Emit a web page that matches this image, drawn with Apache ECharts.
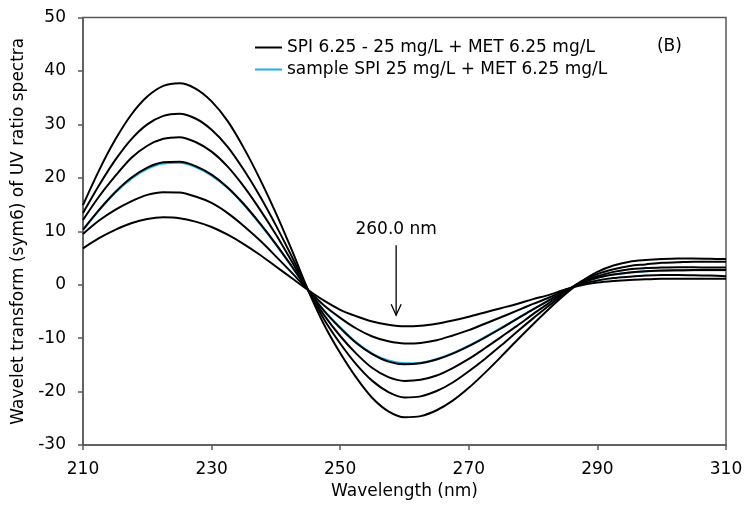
<!DOCTYPE html>
<html>
<head>
<meta charset="utf-8">
<script src="https://cdn.jsdelivr.net/npm/echarts@6/dist/echarts.min.js"></script>
<style>html,body{margin:0;padding:0;background:#fff}#c{width:746px;height:508px}</style>
</head>
<body>
<div id="c"></div>
<script>
const wavelengths = [210, 212.5, 215, 217.5, 220, 222.5, 225, 227.5, 230, 232.5, 235, 237.5, 240, 242.5, 245, 247.5, 250, 252.5, 255, 257.5, 260, 262.5, 265, 267.5, 270, 272.5, 275, 277.5, 280, 282.5, 285, 287.5, 290, 292.5, 295, 297.5, 300, 302.5, 305, 307.5, 310];
const std1 = [14.9, 21.4, 27.1, 31.8, 35.2, 37.2, 37.7, 36.7, 34.3, 30.6, 25.6, 19.8, 13.4, 6.4, -1.0, -7.5, -12.8, -17.4, -21.2, -23.7, -24.8, -24.6, -23.5, -21.7, -19.3, -16.5, -13.5, -10.4, -7.4, -4.5, -1.8, 0.6, 2.4, 3.6, 4.3, 4.6, 4.8, 4.9, 4.9, 4.85, 4.8];
const std2 = [13.4, 18.6, 23.3, 27.2, 30.0, 31.6, 32.0, 31.1, 29.0, 25.8, 21.5, 16.6, 11.1, 5.2, -1.0, -6.5, -11.0, -14.9, -18.0, -20.1, -21.1, -20.9, -19.9, -18.3, -16.2, -13.9, -11.4, -8.8, -6.3, -3.9, -1.5, 0.6, 2.0, 2.9, 3.5, 3.8, 4.1, 4.2, 4.3, 4.3, 4.3];
const std3 = [12.1, 16.5, 20.3, 23.7, 26.0, 27.3, 27.6, 26.7, 24.9, 22.1, 18.4, 14.1, 9.4, 4.3, -1.0, -5.7, -9.6, -12.9, -15.6, -17.3, -18.0, -17.8, -17.0, -15.6, -13.9, -11.9, -9.8, -7.7, -5.5, -3.4, -1.3, 0.5, 1.6, 2.4, 2.9, 3.1, 3.2, 3.25, 3.25, 3.2, 3.2];
const std4 = [10.3, 14.0, 17.3, 20.0, 21.9, 22.9, 23.0, 22.2, 20.6, 18.2, 15.1, 11.5, 7.6, 3.4, -1.0, -4.9, -8.1, -10.9, -13.0, -14.4, -14.9, -14.7, -14.0, -12.9, -11.5, -9.9, -8.2, -6.4, -4.6, -2.9, -1.2, 0.3, 1.3, 1.9, 2.3, 2.5, 2.65, 2.7, 2.75, 2.75, 2.75];
const std5 = [9.5, 12.0, 14.0, 15.6, 16.8, 17.3, 17.25, 16.5, 15.3, 13.4, 11.0, 8.3, 5.3, 2.2, -1.0, -3.9, -6.2, -8.2, -9.7, -10.6, -11.0, -10.9, -10.4, -9.5, -8.5, -7.3, -6.1, -4.85, -3.6, -2.4, -1.0, 0.1, 0.8, 1.25, 1.5, 1.7, 1.8, 1.8, 1.75, 1.7, 1.6];
const std6 = [6.8, 8.7, 10.25, 11.5, 12.3, 12.6, 12.45, 11.8, 10.8, 9.35, 7.6, 5.6, 3.4, 1.2, -1.0, -3.0, -4.7, -5.9, -6.9, -7.5, -7.8, -7.7, -7.3, -6.7, -6.0, -5.2, -4.4, -3.6, -2.7, -1.9, -0.9, -0.1, 0.4, 0.7, 0.9, 1.0, 1.1, 1.1, 1.1, 1.1, 1.1];
const sample = [10.2, 13.9, 17.2, 19.8, 21.7, 22.7, 22.8, 22.0, 20.4, 18.1, 15.0, 11.4, 7.5, 3.3, -1.0, -4.85, -8.0, -10.8, -12.9, -14.2, -14.7, -14.6, -13.9, -12.8, -11.4, -9.8, -8.1, -6.35, -4.55, -2.9, -1.2, 0.3, 1.3, 1.9, 2.25, 2.5, 2.6, 2.65, 2.7, 2.7, 2.7];
const stdName = 'SPI 6.25 - 25 mg/L + MET 6.25 mg/L';
const sampleName = 'sample SPI 25 mg/L + MET 6.25 mg/L';
const xTicks = [210, 230, 250, 270, 290, 310];
const yTicks = [-30, -20, -10, 0, 10, 20, 30, 40, 50];
const annotationText = '260.0 nm';
const panelLabel = '(B)';

const FONT = '"DejaVu Sans", sans-serif';
const FS = 17;
const chart = echarts.init(document.getElementById('c'), null, {renderer: 'canvas'});
const pairs = arr => wavelengths.map((w, i) => [w, arr[i]]);
const mk = (name, arr, color, z) => ({
  name, type: 'line', data: pairs(arr), smooth: 0.3, showSymbol: false, symbol: 'none',
  lineStyle: {color, width: 2}, itemStyle: {color}, z, animation: false
});
const series = [
  mk(sampleName, sample, '#1fb0e6', 2),
  mk(stdName, std1, '#000', 3), mk(stdName, std2, '#000', 3), mk(stdName, std3, '#000', 3),
  mk(stdName, std4, '#000', 3), mk(stdName, std5, '#000', 3), mk(stdName, std6, '#000', 3)
];
chart.setOption({
  animation: false,
  backgroundColor: '#fff',
  grid: {left: 83, right: 20, top: 17.5, bottom: 63, show: true, borderColor: '#595959', borderWidth: 1.5, containLabel: false},
  legend: {
    orient: 'vertical', left: 250, top: 34, itemWidth: 27, itemHeight: 2, itemGap: 5, icon: 'rect',
    data: [stdName, sampleName],
    textStyle: {fontFamily: FONT, fontSize: FS, color: '#000', lineHeight: 17}
  },
  xAxis: {
    type: 'value', min: xTicks[0], max: xTicks[xTicks.length - 1], interval: 20,
    name: 'Wavelength (nm)', nameLocation: 'middle', nameGap: 25,
    nameTextStyle: {fontFamily: FONT, fontSize: FS, color: '#000'},
    axisLine: {show: true, onZero: false, lineStyle: {color: '#595959', width: 1.5}},
    axisTick: {show: true, inside: false, length: 5, lineStyle: {color: '#595959', width: 1.5}},
    axisLabel: {fontFamily: FONT, fontSize: FS, color: '#000', margin: 16},
    splitLine: {show: false}
  },
  yAxis: {
    type: 'value', min: yTicks[0], max: yTicks[yTicks.length - 1], interval: 10,
    name: 'Wavelet transform (sym6) of UV ratio spectra', nameLocation: 'middle', nameGap: 49,
    nameTextStyle: {fontFamily: FONT, fontSize: FS, color: '#000'},
    axisLine: {show: true, onZero: false, lineStyle: {color: '#595959', width: 1.5}},
    axisTick: {show: true, inside: false, length: 5, lineStyle: {color: '#595959', width: 1.5}},
    axisLabel: {fontFamily: FONT, fontSize: FS, color: '#000', margin: 17},
    splitLine: {show: false}
  },
  series
});

// annotation arrow + labels positioned in data coordinates
const arrowX = 258.7, arrowTop = 7.4, arrowBot = -5.7;
const pTop = chart.convertToPixel({gridIndex: 0}, [arrowX, arrowTop]);
const pBot = chart.convertToPixel({gridIndex: 0}, [arrowX, arrowBot]);
const pText = chart.convertToPixel({gridIndex: 0}, [arrowX, 10.4]);
const pB = chart.convertToPixel({gridIndex: 0}, [301.2, 44.6]);
chart.setOption({
  graphic: [
    {type: 'line', shape: {x1: pTop[0], y1: pTop[1], x2: pBot[0], y2: pBot[1]}, style: {stroke: '#000', lineWidth: 1.3}, z: 10},
    {type: 'polyline', shape: {points: [[pBot[0] - 5, pBot[1] - 11], [pBot[0], pBot[1]], [pBot[0] + 5, pBot[1] - 11]]}, style: {stroke: '#000', lineWidth: 1.3, fill: null}, z: 10},
    {type: 'text', x: pText[0], y: pText[1], style: {text: annotationText, font: FS + 'px ' + FONT, fill: '#000', textAlign: 'center', textVerticalAlign: 'middle'}, z: 10},
    {type: 'text', x: pB[0], y: pB[1], style: {text: panelLabel, font: FS + 'px ' + FONT, fill: '#000', textAlign: 'center', textVerticalAlign: 'middle'}, z: 10}
  ]
});
</script>
</body>
</html>
